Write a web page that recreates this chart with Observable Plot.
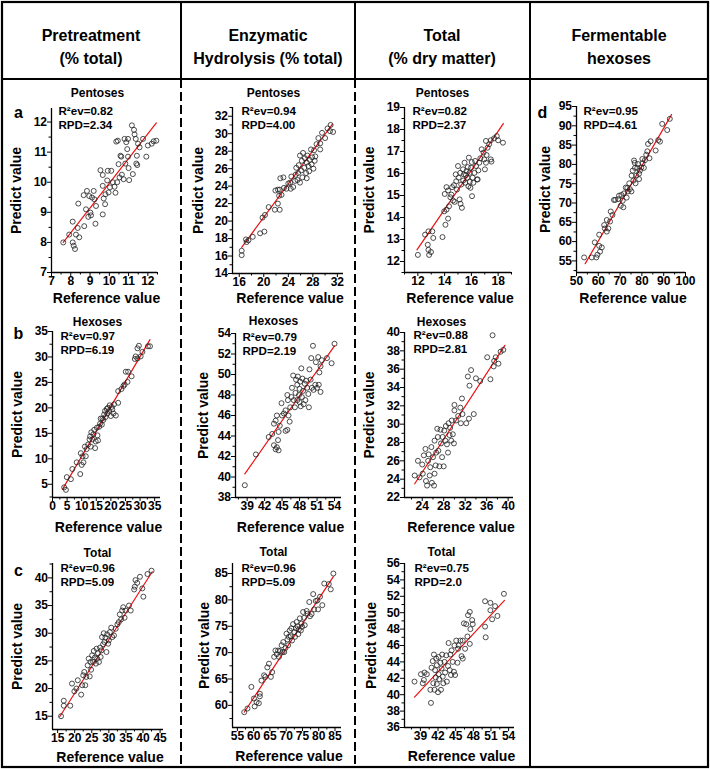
<!DOCTYPE html>
<html><head><meta charset="utf-8">
<script src="https://cdn.jsdelivr.net/npm/d3@7"></script>
<script src="https://cdn.jsdelivr.net/npm/@observablehq/plot@0.6"></script>
<style>
body{margin:0;background:#fff;}
#fig{position:relative;width:710px;height:769px;font-family:"Liberation Sans",Arial,sans-serif;overflow:hidden;background:#fff}
.hdr{position:absolute;text-align:center;font-weight:bold;font-size:16px;line-height:23px;color:#000}
#fig svg{position:absolute}
</style></head><body><div id="fig"></div>
<script>
// ---------------- DATA (reference value, predicted value) ----------------
const ptPent = [[7.61,8.0],[7.92,8.26],[8.1,8.69],[8.1,8.0],[8.15,7.89],[8.22,7.78],[8.27,8.26],[8.36,8.48],[8.44,8.17],[8.39,9.29],
[8.67,9.57],[8.7,8.54],[8.79,9.1],[8.84,9.71],[8.91,8.85],[8.96,9.54],[9.05,8.9],[9.02,8.99],[9.1,9.49],[9.19,9.71],
[9.23,9.43],[9.28,8.62],[9.31,9.21],[9.54,10.4],[9.66,10.24],[9.66,9.88],[9.66,8.93],[9.71,9.46],[9.78,9.27],[9.8,9.6],
[9.89,10.06],[9.92,10.38],[9.96,9.66],[10.03,9.83],[10.1,10.38],[10.18,10.0],[10.27,9.85],[10.32,9.65],[10.36,11.35],[10.44,11.38],
[10.41,10.0],[10.48,10.6],[10.53,10.16],[10.58,10.88],[10.62,10.85],[10.65,10.25],[10.74,10.1],[10.79,11.44],[10.83,10.62],[10.88,11.33],
[10.93,11.1],[10.97,11.44],[10.97,10.85],[11.0,10.47],[11.03,10.07],[11.17,11.89],[11.28,11.74],[11.31,11.59],[11.37,11.44],[11.4,10.62],
[11.43,10.88],[11.45,10.57],[11.49,11.28],[11.57,11.16],[11.75,11.44],[11.92,10.85],[12.0,11.22],[12.2,11.28],[12.3,11.36],[12.44,11.38],[11.22,10.27]];
const ptPentLine = [[7.61,8.0],[12.44,11.97]];
const ptPentXT = [7,8,9,10,11,12];
const ptPentYT = [7,8,9,10,11,12];

const enzPent = [[16.4,16.6],[16.4,16.1],[17.1,17.9],[17.2,17.6],[17.5,17.8],[18.2,18.2],[19.4,18.6],[20.1,18.8],[19.8,20.4],[20.2,20.7],
[20.8,21.6],[21.8,21.3],[22.6,21.3],[22.3,22.0],[21.9,23.5],[22.3,23.6],[22.6,23.6],[22.5,22.9],[22.9,23.0],[22.7,24.9],
[23.2,25.0],[23.3,23.8],[23.7,23.7],[24.0,24.3],[24.3,24.4],[24.4,23.7],[24.5,25.1],[24.8,23.9],[25.1,24.6],[25.2,25.3],
[25.3,26.1],[25.5,24.7],[25.6,25.5],[25.7,26.4],[25.9,27.5],[25.9,24.4],[26.1,25.8],[26.2,26.9],[26.3,25.0],[26.4,27.8],
[26.6,26.1],[26.7,27.2],[26.9,25.5],[27.0,26.7],[27.1,27.5],[27.3,26.3],[27.4,25.7],[27.5,27.0],[27.7,28.2],[27.8,26.5],
[27.9,27.3],[28.1,26.0],[28.2,28.1],[28.3,26.9],[28.4,27.4],[28.6,28.8],[28.9,29.5],[29.2,28.2],[29.5,30.1],[30.0,29.5],
[30.4,30.6],[30.8,30.3],[30.9,31.0],[31.3,30.2],[29.2,28.9],[27.0,24.9]];
const enzPentLine = [[16.4,17.0],[31.2,31.1]];
const enzPentXT = [16,20,24,28,32];
const enzPentYT = [14,16,18,20,22,24,26,28,30,32];

const totPent = [[12.0,12.3],[12.54,13.22],[12.74,12.76],[12.79,12.53],[12.84,12.3],[12.79,13.37],[12.98,12.43],[13.08,13.37],[13.15,13.07],[13.84,13.11],
[13.97,14.28],[14.06,13.67],[14.14,14.36],[14.01,15.07],[14.14,15.38],[14.26,15.23],[14.33,14.51],[14.43,14.92],[14.5,15.04],[14.56,15.38],
[14.63,14.77],[14.7,15.47],[14.75,14.71],[14.83,15.96],[14.87,15.65],[14.92,15.27],[15.0,16.34],[15.05,15.81],[15.12,14.82],[15.17,16.03],
[15.19,14.62],[15.24,15.5],[15.29,14.44],[15.37,16.19],[15.39,15.68],[15.44,15.96],[15.49,16.49],[15.54,15.58],[15.59,15.93],[15.64,16.11],
[15.69,15.81],[15.73,16.29],[15.78,15.42],[15.81,16.72],[15.86,16.03],[15.88,15.62],[15.93,15.35],[15.98,16.26],[16.03,16.52],[16.05,14.97],
[16.1,15.81],[16.15,15.58],[16.23,16.03],[16.28,16.57],[16.35,16.34],[16.42,15.73],[16.52,16.14],[16.59,16.49],[16.67,16.69],[16.47,15.73],
[16.77,17.1],[16.91,16.95],[16.96,16.64],[17.01,16.19],[17.09,16.49],[17.14,16.84],[17.21,17.17],[17.33,17.33],[17.09,17.48],[17.45,17.51],
[17.7,17.6],[17.9,17.7],[18.0,17.51],[18.36,17.4],[17.45,16.64],[17.5,16.54],[14.26,13.95]];
const totPentLine = [[11.93,12.53],[18.39,18.27]];
const totPentXT = [12,14,16,18];
const totPentYT = [12,13,14,15,16,17,18,19];

const ferm = [[53.5,55.9],[57.0,55.9],[58.4,59.8],[59.1,55.9],[59.6,56.6],[60.4,61.8],[60.4,58.9],[60.8,57.4],[61.6,58.5],[62.7,64.3],
[63.0,63.4],[63.9,65.6],[63.9,62.6],[64.6,63.4],[65.4,65.2],[65.7,67.8],[66.5,66.9],[67.2,70.8],[67.8,70.8],[69.1,71.0],
[69.5,71.9],[70.3,69.3],[70.6,72.1],[71.2,70.6],[71.5,68.9],[71.8,72.5],[72.6,74.0],[73.0,71.4],[73.3,73.9],[73.6,73.0],
[74.2,75.1],[74.5,73.6],[75.2,73.0],[75.3,77.1],[75.8,78.4],[76.1,75.8],[76.4,81.0],[76.7,80.4],[76.8,79.1],[77.1,75.1],
[77.4,77.1],[77.9,79.1],[78.2,80.1],[78.7,77.6],[79.1,78.4],[79.7,79.2],[80.3,80.3],[80.9,79.1],[81.4,81.1],[82.0,82.5],
[82.5,83.4],[82.8,85.3],[83.5,81.6],[84.0,86.0],[86.3,83.6],[87.5,86.3],[88.3,85.9],[89.3,90.5],[91.6,88.9],[92.8,91.8],
[78.7,76.2],[80.2,81.4]];
const fermLine = [[54.0,54.3],[93.6,92.9]];
const fermXT = [50,60,70,80,90,100];
const fermYT = [55,60,65,70,75,80,85,90,95];

const ptHex = [[4.0,4.4],[4.6,3.9],[4.9,6.4],[6.3,6.0],[6.8,8.0],[8.3,9.3],[9.5,7.0],[9.7,11.1],[10.0,8.8],[10.3,10.5],
[10.6,9.3],[11.1,12.4],[11.4,10.5],[11.7,11.9],[12.2,12.8],[12.7,13.8],[12.9,14.4],[13.1,12.4],[13.3,15.2],[13.7,13.8],
[14.0,14.8],[14.3,15.7],[14.6,12.1],[14.8,13.4],[15.2,16.1],[15.4,14.6],[15.6,13.6],[16.0,16.3],[16.3,16.9],[16.5,17.9],
[16.9,16.7],[17.1,17.9],[17.4,17.6],[17.7,18.7],[18.0,19.4],[18.2,18.2],[18.6,19.8],[18.8,18.9],[19.0,20.0],[19.4,19.4],
[19.6,20.5],[20.0,18.4],[20.3,20.2],[20.5,19.7],[20.9,18.9],[21.1,20.7],[21.7,18.5],[22.5,21.0],[22.5,23.3],[23.6,23.7],
[24.3,24.3],[24.7,24.6],[25.1,27.1],[25.7,25.1],[25.9,27.1],[27.1,26.2],[28.2,29.6],[28.5,30.1],[29.1,29.7],[29.1,31.7],
[29.6,32.2],[30.2,30.1],[30.8,31.0],[32.7,32.1],[33.4,32.1]];
const ptHexLine = [[3.4,4.0],[33.4,33.4]];
const ptHexXT = [0,5,10,15,20,25,30,35];
const ptHexYT = [5,10,15,20,25,30,35];

const enzHex = [[38.6,39.2],[40.5,42.2],[42.7,43.9],[43.3,44.2],[43.6,45.2],[43.9,45.5],[43.6,43.1],[43.9,42.7],[44.1,42.9],[44.4,42.6],
[44.3,43.6],[44.4,44.4],[44.1,46.0],[44.6,45.0],[45.0,46.0],[44.9,47.2],[45.3,46.2],[45.6,46.5],[45.6,44.5],[45.9,44.6],
[45.9,48.0],[46.0,47.5],[46.1,46.0],[46.3,45.4],[46.4,46.8],[46.6,47.8],[46.7,48.7],[46.9,49.9],[47.0,47.5],[47.2,46.8],
[47.3,48.2],[47.4,49.5],[47.6,49.0],[47.6,47.5],[47.7,49.8],[47.9,48.0],[48.0,47.3],[48.0,48.6],[48.1,49.3],[48.2,46.9],
[48.3,50.6],[48.4,47.8],[48.5,49.6],[48.6,48.4],[48.7,47.1],[48.9,49.1],[49.0,47.5],[49.1,49.4],[49.3,48.7],[49.5,48.1],
[49.6,46.8],[49.7,50.5],[49.9,49.5],[50.0,51.6],[50.1,48.7],[50.3,52.8],[50.4,48.5],[50.7,49.0],[50.8,51.2],[51.0,48.7],
[51.2,51.7],[51.3,49.0],[51.4,50.2],[51.6,48.3],[51.8,51.4],[51.6,50.8],[52.7,51.6],[53.5,51.1],[54.0,53.0]];
const enzHexLine = [[38.6,40.3],[54.0,52.8]];
const enzHexXT = [39,42,45,48,51,54];
const enzHexYT = [38,40,42,44,46,48,50,52,54];

const totHex = [[22.6,24.4],[23.2,26.0],[23.5,24.2],[24.0,25.6],[24.1,24.6],[24.3,26.6],[24.6,27.3],[24.7,23.8],[24.9,23.3],[25.1,26.0],
[25.2,26.7],[25.4,24.4],[25.5,25.3],[25.7,27.5],[25.8,23.6],[26.0,26.4],[26.2,23.3],[26.3,24.6],[26.3,28.2],[26.5,25.5],
[26.6,26.9],[26.8,29.5],[26.9,28.6],[27.0,27.1],[27.2,25.4],[27.4,29.4],[27.5,27.9],[27.7,26.4],[27.8,28.6],[28.0,25.4],
[28.1,29.3],[28.3,28.2],[28.4,29.8],[28.6,27.8],[28.8,26.9],[28.9,30.1],[29.1,28.8],[29.2,29.6],[29.4,28.2],[29.5,30.4],
[29.7,28.9],[29.9,27.9],[30.0,31.5],[30.0,32.1],[30.3,30.4],[30.7,30.9],[31.1,31.8],[31.2,30.1],[31.5,31.1],[31.4,32.8],
[32.2,30.1],[32.5,35.2],[32.8,34.2],[32.7,30.6],[33.1,35.9],[33.6,31.1],[34.0,35.0],[34.8,34.7],[36.1,37.3],[36.7,34.9],
[37.1,39.7],[37.3,36.3],[37.4,36.9],[37.7,37.3],[38.2,36.6],[38.6,37.9],[39.1,38.1]];
const totHexLine = [[22.6,23.5],[39.4,38.6]];
const totHexXT = [24,28,32,36,40];
const totHexYT = [22,24,26,28,30,32,34,36,38,40];

const ptTot = [[16.0,15.0],[16.8,16.9],[16.8,17.8],[18.7,16.9],[19.2,20.9],[19.9,19.5],[20.5,20.0],[20.9,21.5],[21.9,18.9],[22.2,20.6],
[22.5,22.4],[22.8,23.0],[23.1,20.6],[23.4,22.1],[23.8,24.2],[24.1,25.4],[24.4,22.2],[24.6,24.8],[24.8,23.4],[25.1,26.0],
[25.4,24.8],[25.6,26.8],[25.9,25.6],[26.2,24.5],[26.4,27.2],[26.6,25.4],[26.8,26.4],[27.1,24.8],[27.4,27.4],[27.6,25.7],
[27.8,26.9],[28.0,29.3],[28.3,28.0],[28.5,30.0],[28.7,28.4],[29.0,29.2],[29.3,26.6],[29.5,29.8],[29.8,28.1],[30.0,28.7],
[30.3,30.2],[30.7,31.0],[31.0,29.3],[31.5,29.6],[32.0,30.8],[32.5,31.6],[32.9,32.0],[33.2,33.4],[33.6,32.5],[33.9,34.1],
[34.2,34.7],[34.6,32.8],[34.9,34.1],[35.9,35.0],[36.4,34.1],[37.4,37.9],[37.6,38.4],[37.8,39.6],[38.3,39.1],[39.1,40.2],
[39.8,38.1],[40.1,36.6],[41.3,40.7],[42.5,41.3]];
const ptTotLine = [[15.6,14.9],[42.7,41.1]];
const ptTotXT = [15,20,25,30,35,40,45];
const ptTotYT = [15,20,25,30,35,40];

const enzTot = [[57.1,58.7],[58.1,59.4],[59.3,63.5],[60.1,61.3],[60.3,59.8],[60.9,60.6],[61.6,60.4],[61.9,61.7],[61.9,62.2],[62.4,64.7],
[63.2,65.7],[63.6,65.4],[64.2,67.2],[64.7,67.9],[65.3,65.4],[65.7,66.3],[66.3,69.2],[66.7,70.4],[67.1,69.7],[67.5,70.4],
[67.8,69.2],[68.1,70.3],[68.6,71.4],[68.9,70.1],[69.1,72.0],[69.4,70.1],[69.8,70.9],[70.1,73.6],[70.4,72.5],[70.6,71.4],
[70.8,73.0],[71.1,74.2],[71.4,73.1],[71.6,74.6],[71.8,72.3],[72.1,75.4],[72.5,73.9],[72.7,73.0],[73.0,74.6],[73.2,75.8],
[73.5,75.0],[73.7,73.5],[73.9,74.4],[74.2,76.5],[74.5,74.2],[74.7,75.5],[74.9,74.9],[75.2,77.7],[75.5,76.6],[75.7,75.2],
[76.3,77.9],[76.6,77.4],[77.1,79.6],[77.3,76.9],[77.8,77.3],[78.3,81.1],[78.6,78.2],[79.1,79.8],[79.6,79.9],[80.4,80.6],
[81.1,79.0],[81.7,83.1],[83.1,83.0],[83.7,82.0],[84.5,85.0],[79.8,78.2]];
const enzTotLine = [[57.1,58.7],[84.5,84.4]];
const enzTotXT = [55,60,65,70,75,80,85];
const enzTotYT = [60,65,70,75,80,85];

const totTot = [[38.0,41.6],[39.1,42.5],[39.4,41.4],[39.7,42.7],[39.6,41.8],[40.1,42.5],[40.7,40.6],[40.8,39.0],[40.9,43.3],[41.1,44.1],
[41.2,41.4],[41.3,44.9],[41.4,40.6],[41.5,43.0],[41.6,42.1],[41.7,44.4],[41.8,41.3],[41.8,43.6],[42.0,40.3],[42.1,44.6],
[42.1,42.5],[42.2,41.9],[42.4,43.9],[42.5,40.6],[42.6,43.2],[42.7,44.9],[42.8,42.2],[42.9,41.4],[43.1,44.0],[43.2,42.7],
[43.4,44.8],[43.5,41.6],[43.7,43.5],[43.8,46.3],[44.0,43.0],[44.1,44.9],[44.2,42.4],[44.3,45.4],[44.5,44.0],[44.7,42.8],
[44.8,46.0],[44.9,42.4],[45.1,46.6],[45.3,43.9],[45.4,45.6],[45.5,46.0],[45.8,46.6],[46.0,44.7],[46.2,44.4],[46.4,48.7],
[46.6,45.6],[46.8,48.6],[47.0,47.1],[47.1,49.7],[47.4,50.1],[47.4,46.2],[47.5,48.0],[47.8,49.1],[47.9,48.6],[50.0,51.4],
[50.0,48.3],[50.1,47.0],[50.9,51.2],[50.9,50.3],[51.2,49.2],[51.7,50.8],[52.1,49.6],[53.2,52.3],[46.2,46.6]];
const totTotLine = [[38.0,39.7],[53.3,51.5]];
const totTotXT = [39,42,45,48,51,54];
const totTotYT = [36,38,40,42,44,46,48,50,52,54,56];

const headers = [["Pretreatment","(% total)"],["Enzymatic","Hydrolysis (% total)"],["Total","(% dry matter)"],["Fermentable","hexoses"]];
const panelTitles = ["Pentoses","Hexoses","Total"];
const stats = {
  ptPent:["R²ev=0.82","RPD=2.34"], enzPent:["R²ev=0.94","RPD=4.00"], totPent:["R²ev=0.82","RPD=2.37"], ferm:["R²ev=0.95","RPD=4.61"],
  ptHex:["R²ev=0.97","RPD=6.19"], enzHex:["R²ev=0.79","RPD=2.19"], totHex:["R²ev=0.88","RPD=2.81"],
  ptTot:["R²ev=0.96","RPD=5.09"], enzTot:["R²ev=0.96","RPD=5.09"], totTot:["R²ev=0.75","RPD=2.0"]
};

// ---------------- LAYOUT ----------------
const FONT = '"Liberation Sans", Arial, sans-serif';
const cols = [[3,177],[182,172],[357,172],[532,175]];
const rows = [[80,225],[305,230],[535,230]];
const layout = [
 {key:"ptPent", d:ptPent, ln:ptPentLine, xt:ptPentXT, yt:ptPentYT, xd:[7,12.5], yd:[7,12.45], c:0, r:0, f:[51,157,108,272], t:[97,93], L:"a", Lp:[18,112], a:[58,111], yl:16, xl:298},
 {key:"enzPent", d:enzPent, ln:enzPentLine, xt:enzPentXT, yt:enzPentYT, xd:[14.9,33], yd:[14,33], c:1, r:0, f:[232,343,107,273], t:[273,93], a:[241,111], yl:198, xl:298},
 {key:"totPent", d:totPent, ln:totPentLine, xt:totPentXT, yt:totPentYT, xd:[11,19], yd:[11.5,19], c:2, r:0, f:[404,511,107,272], t:[442,93], a:[412,111], yl:369, xl:298},
 {key:"ferm", d:ferm, ln:fermLine, xt:fermXT, yt:fermYT, xd:[50,100], yd:[52,95], c:3, r:0, f:[576,685,106,272], t:null, L:"d", Lp:[542,112], a:[583,111], yl:545, xl:298},
 {key:"ptHex", d:ptHex, ln:ptHexLine, xt:ptHexXT, yt:ptHexYT, xd:[0,37], yd:[2.4,35], c:0, r:1, f:[52,160,331,497], t:[97,322], L:"b", Lp:[18,333], a:[60,336], yl:17, xl:527},
 {key:"enzHex", d:enzHex, ln:enzHexLine, xt:enzHexXT, yt:enzHexYT, xd:[37,55.2], yd:[38,54], c:1, r:1, f:[235,341,333,497], t:[273,321], a:[242,337], yl:203, xl:527},
 {key:"totHex", d:totHex, ln:totHexLine, xt:totHexXT, yt:totHexYT, xd:[20.7,41], yd:[22,40], c:2, r:1, f:[404,513,332,497], t:[441,322], a:[413,335], yl:369, xl:527},
 {key:"ptTot", d:ptTot, ln:ptTotLine, xt:ptTotXT, yt:ptTotYT, xd:[13.5,46], yd:[12.6,42.6], c:0, r:2, f:[52,163,563,729], t:[97,553], L:"c", Lp:[18,570], a:[60,568], yl:17, xl:757},
 {key:"enzTot", d:enzTot, ln:enzTotLine, xt:enzTotXT, yt:enzTotYT, xd:[53.5,87], yd:[55.8,86.9], c:1, r:2, f:[232,341,563,727], t:[273,552], a:[241,568], yl:204, xl:756},
 {key:"totTot", d:totTot, ln:totTotLine, xt:totTotXT, yt:totTotYT, xd:[36.3,55], yd:[36,56], c:2, r:2, f:[404,514,563,727], t:[441,552], a:[414,568], yl:371, xl:756}
];

const fig = document.getElementById("fig");

function minorTicks(t, dom){
  const s = t[1]-t[0], out = [];
  for (let v = t[0]-s/2; v <= dom[1]+1e-9; v += s) if (v >= dom[0]-1e-9) out.push(v);
  return out;
}

function panel(p){
  const [bl,bw] = cols[p.c], [bt,bh] = rows[p.r];
  const [fl,fr,ft,fb] = p.f;
  const cx = (fl+fr)/2;
  const pts = p.d.map(([x,y]) => ({x,y}));
  const ln = p.ln.map(([x,y]) => ({x,y}));
  const T = (s, o) => Plot.text([s], Object.assign({text:d=>d, lineAnchor:"middle"}, o));
  const marks = [
    Plot.axisX(minorTicks(p.xt,p.xd), {tickSize:2.5, tickFormat:() => "", label:null}),
    Plot.axisX(p.xt, {tickSize:4, tickPadding:0, fontSize:12, label:null}),
    Plot.axisY(minorTicks(p.yt,p.yd), {tickSize:2.5, tickFormat:() => "", label:null}),
    Plot.axisY(p.yt, {tickSize:4, tickPadding:0.5, fontSize:12, label:null}),
    Plot.ruleX([p.xd[0]], {stroke:"#000", strokeWidth:1.3}),
    Plot.ruleY([p.yd[0]], {stroke:"#000", strokeWidth:1.3}),
    Plot.line(ln, {x:"x", y:"y", stroke:"#ee1111", strokeWidth:1.2}),
    Plot.dot(pts, {x:"x", y:"y", r:2.5, stroke:"#222", strokeWidth:0.8, fill:"none"}),
    T(stats[p.key][0], {frameAnchor:"top-left", textAnchor:"start", dx:p.a[0]-fl, dy:p.a[1]-ft, fontSize:11.6}),
    T(stats[p.key][1], {frameAnchor:"top-left", textAnchor:"start", dx:p.a[0]-fl, dy:p.a[1]+13.5-ft, fontSize:11.6}),
    T("Predict value", {frameAnchor:"left", textAnchor:"middle", rotate:-90, dx:p.yl-fl, fontSize:14}),
    T("Reference value", {frameAnchor:"bottom", textAnchor:"middle", dx:2, dy:p.xl-fb, fontSize:14})
  ];
  if (p.t) marks.push(T(panelTitles[p.r], {frameAnchor:"top", textAnchor:"middle", dx:p.t[0]-cx, dy:p.t[1]-ft, fontSize:12}));
  if (p.L) marks.push(T(p.L, {frameAnchor:"top-left", textAnchor:"middle", dx:p.Lp[0]-fl, dy:p.Lp[1]-ft, fontSize:16}));
  const svg = Plot.plot({
    width:bw, height:bh,
    marginLeft:fl-bl, marginRight:bl+bw-fr, marginTop:ft-bt, marginBottom:bt+bh-fb,
    x:{domain:p.xd}, y:{domain:p.yd},
    style:{background:"transparent", fontFamily:FONT, fontWeight:"bold", color:"#000", overflow:"visible"},
    marks
  });
  svg.style.left = bl + "px";
  svg.style.top = bt + "px";
  fig.appendChild(svg);
}
layout.forEach(panel);

// headers
const colCenters = [91,268,442,619];
headers.forEach((h,i) => {
  const div = document.createElement("div");
  div.className = "hdr";
  div.style.left = (colCenters[i]-90) + "px";
  div.style.width = "180px";
  div.style.top = "24px";
  div.innerHTML = h.map(s => `<div>${s}</div>`).join("");
  fig.appendChild(div);
});

// borders
const bsvg = d3.create("svg").attr("width",710).attr("height",769).style("left","0px").style("top","0px").style("pointer-events","none");
bsvg.append("rect").attr("x",2).attr("y",2).attr("width",706).attr("height",765).attr("fill","none").attr("stroke","#000").attr("stroke-width",2.2);
bsvg.append("line").attr("x1",2).attr("x2",708).attr("y1",79).attr("y2",79).attr("stroke","#000").attr("stroke-width",2);
[181,355].forEach(x => {
  bsvg.append("line").attr("x1",x).attr("x2",x).attr("y1",2).attr("y2",79).attr("stroke","#000").attr("stroke-width",2);
  bsvg.append("line").attr("x1",x).attr("x2",x).attr("y1",79).attr("y2",767).attr("stroke","#000").attr("stroke-width",2).attr("stroke-dasharray","9,4");
});
bsvg.append("line").attr("x1",530).attr("x2",530).attr("y1",2).attr("y2",767).attr("stroke","#000").attr("stroke-width",2);
fig.appendChild(bsvg.node());
</script></body></html>
